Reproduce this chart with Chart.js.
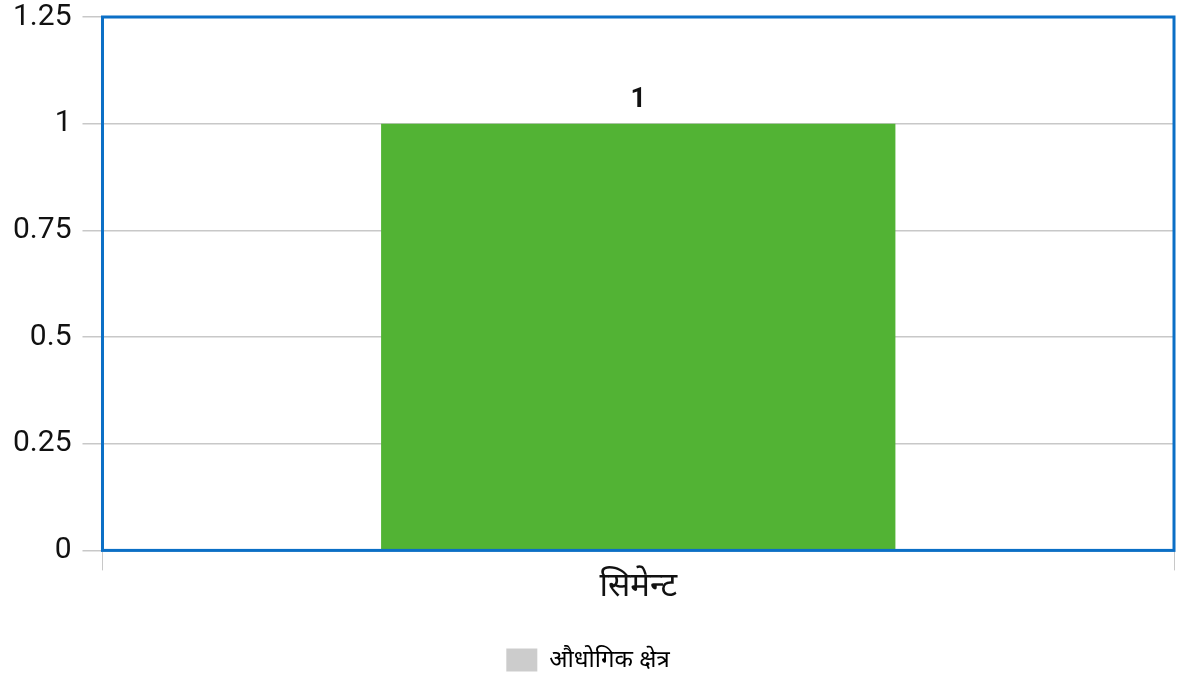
<!DOCTYPE html>
<html>
<head>
<meta charset="utf-8">
<script src="https://cdn.jsdelivr.net/npm/chart.js@4"></script>
<style>
  html, body { margin: 0; padding: 0; background: #fff; }
  #wrap { width: 1178px; height: 680px; }
</style>
</head>
<body>
<div id="wrap"><canvas id="chart" width="1178" height="680"></canvas></div>
<script>
// -------------------------    Data    -------------------------

var categories = ['सिमेन्ट'];
var seriesName = 'औधोगिक क्षेत्र';
var seriesValues = [1];
var yTicks = [0, 0.25, 0.5, 0.75, 1, 1.25];
var yTickLabels = ['0', '0.25', '0.5', '0.75', '1', '1.25'];

// -------------------------    Plugins    -------------------------

// blue frame around the plot area
var framePlugin = {
    id: 'frame',
    afterDatasetsDraw: function (chart) {
        var a = chart.chartArea;
        var ctx = chart.ctx;
        ctx.save();
        ctx.strokeStyle = '#0b6fc6';
        ctx.lineWidth = 3;
        ctx.strokeRect(a.left, a.top, a.right - a.left, a.bottom - a.top);
        ctx.restore();
    }
};

// value label above each bar
var valueLabels = {
    id: 'valueLabels',
    afterDatasetsDraw: function (chart) {
        var ctx = chart.ctx;
        ctx.save();
        ctx.font = 'bold 27px Roboto, Arial, sans-serif';
        ctx.fillStyle = '#111';
        ctx.textAlign = 'center';
        ctx.textBaseline = 'bottom';
        chart.getDatasetMeta(0).data.forEach(function (bar, i) {
            ctx.fillText(String(seriesValues[i]), bar.x, bar.y - 10);
        });
        ctx.restore();
    }
};

// -------------------------    Chart Setup    -------------------------

var ctx = document.getElementById('chart').getContext('2d');
new Chart(ctx, {
    type: 'bar',
    data: {
        labels: categories,
        datasets: [{
            label: seriesName,
            data: seriesValues,
            backgroundColor: '#52b334',
            borderWidth: 0,
            barPercentage: 0.8,
            categoryPercentage: 0.6
        }]
    },
    options: {
        responsive: false,
        animation: false,
        layout: { padding: { top: 0, right: 4, left: 2, bottom: -2 } },
        scales: {
            x: {
                grid: {
                    display: true,
                    drawOnChartArea: false,
                    color: '#c8c8c8',
                    tickLength: 20
                },
                border: { display: false },
                ticks: {
                    color: '#111',
                    font: { family: 'Noto Sans, sans-serif', size: 33 },
                    padding: -4
                }
            },
            y: {
                min: 0,
                max: 1.25,
                afterBuildTicks: function (axis) {
                    axis.ticks = yTicks.map(function (v) { return { value: v }; });
                },
                afterFit: function (axis) {
                    axis.paddingTop = 17;
                },
                grid: {
                    color: '#c8c8c8',
                    tickLength: 20,
                    lineWidth: 1.5
                },
                border: { display: false },
                ticks: {
                    color: '#111',
                    font: { family: 'Roboto, Arial, sans-serif', size: 30 },
                    padding: 11,
                    callback: function (value, index) {
                        return yTickLabels[index];
                    }
                }
            }
        },
        plugins: {
            legend: {
                position: 'bottom',
                labels: {
                    color: '#333',
                    font: { family: 'Noto Sans, sans-serif', size: 24 },
                    boxWidth: 31,
                    boxHeight: 23,
                    padding: 46,
                    generateLabels: function (chart) {
                        return [{
                            text: seriesName,
                            fillStyle: '#cccccc',
                            strokeStyle: '#cccccc',
                            lineWidth: 0,
                            datasetIndex: 0
                        }];
                    }
                }
            },
            tooltip: { enabled: false }
        }
    },
    plugins: [framePlugin, valueLabels]
});
</script>
</body>
</html>
